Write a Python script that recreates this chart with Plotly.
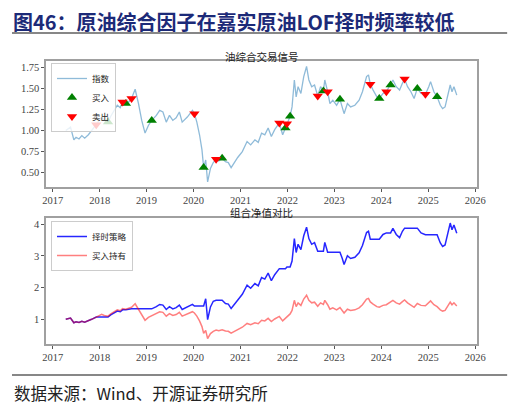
import plotly.graph_objects as go

# ---------------- data ----------------
dates = [
    "2017-04-12", "2017-05-01", "2017-05-19", "2017-06-14", "2017-07-01", "2017-07-24", "2017-08-15", "2017-09-06", "2017-10-05", "2017-10-30", "2017-12-05",
    "2018-01-01", "2018-01-16", "2018-02-06", "2018-03-07", "2018-03-28", "2018-04-23", "2018-05-18", "2018-06-10", "2018-06-28", "2018-07-24", "2018-08-15", "2018-09-06", "2018-10-04", "2018-10-30", "2018-11-24", "2018-12-20",
    "2019-01-15", "2019-02-10", "2019-03-18", "2019-04-13", "2019-05-08", "2019-06-03", "2019-06-28", "2019-07-24", "2019-08-19", "2019-09-13", "2019-10-05", "2019-11-14", "2019-12-24",
    "2020-01-08", "2020-01-27", "2020-02-17", "2020-03-07", "2020-03-20", "2020-04-05", "2020-04-20", "2020-05-12", "2020-06-03", "2020-06-25", "2020-07-16", "2020-08-11", "2020-09-06", "2020-09-28", "2020-10-20", "2020-11-18", "2020-12-10",
    "2021-01-15", "2021-02-21", "2021-03-21", "2021-04-23", "2021-05-19", "2021-06-14", "2021-07-09", "2021-08-04", "2021-08-29", "2021-09-24", "2021-10-30", "2021-11-25", "2021-12-17", "2021-12-28",
    "2022-01-22", "2022-02-06", "2022-02-24", "2022-03-10", "2022-03-25", "2022-04-16", "2022-05-08", "2022-05-30", "2022-06-17", "2022-07-09", "2022-07-31", "2022-08-25", "2022-09-16", "2022-10-08", "2022-10-19", "2022-11-10", "2022-11-28", "2022-12-20",
    "2023-01-19", "2023-02-14", "2023-03-04", "2023-03-18", "2023-04-13", "2023-05-08", "2023-06-10", "2023-07-13", "2023-08-08", "2023-09-09", "2023-09-24", "2023-10-08", "2023-10-30", "2023-11-28", "2023-12-17",
    "2024-01-15", "2024-02-10", "2024-03-14", "2024-04-01", "2024-04-27", "2024-05-23", "2024-06-14", "2024-07-01", "2024-07-24", "2024-08-19", "2024-09-13", "2024-10-08", "2024-11-06", "2024-12-10",
    "2025-01-05", "2025-01-19", "2025-02-14", "2025-03-11", "2025-04-05", "2025-04-23", "2025-05-12", "2025-06-06", "2025-06-21", "2025-07-05", "2025-07-20", "2025-08-11",
]

index_vals = [
    1.00, 1.02, 1.04, 0.89, 0.92, 0.90, 0.94, 0.91, 0.95, 1.00, 1.07,
    1.12, 1.16, 1.12, 1.10, 1.17, 1.24, 1.30, 1.27, 1.34, 1.32, 1.34, 1.38, 1.49, 1.32, 1.12, 0.97,
    1.06, 1.12, 1.18, 1.24, 1.22, 1.10, 1.18, 1.12, 1.15, 1.22, 1.10, 1.16, 1.24,
    1.20, 1.10, 0.95, 0.77, 0.56, 0.65, 0.39, 0.55, 0.62, 0.66, 0.64, 0.67, 0.63, 0.62, 0.56, 0.63, 0.68,
    0.75, 0.87, 0.83, 0.89, 0.86, 0.97, 0.95, 1.03, 0.93, 1.01, 1.09, 0.95, 1.03, 1.08,
    1.17, 1.28, 1.60, 1.40, 1.52, 1.44, 1.64, 1.76, 1.60, 1.52, 1.54, 1.41, 1.52, 1.47, 1.60, 1.46, 1.32, 1.36,
    1.30, 1.37, 1.28, 1.20, 1.32, 1.28, 1.30, 1.36, 1.46, 1.64, 1.66, 1.55, 1.48, 1.40, 1.38,
    1.44, 1.46, 1.54, 1.60, 1.52, 1.48, 1.56, 1.61, 1.52, 1.46, 1.38, 1.50, 1.44, 1.43,
    1.52, 1.58, 1.46, 1.40, 1.30, 1.26, 1.28, 1.44, 1.54, 1.46, 1.52, 1.42,
]

timing_nav = [
    1.00, 1.02, 1.04, 0.89, 0.92, 0.90, 0.94, 0.91, 0.95, 1.00, 1.07,
    1.07, 1.07, 1.07, 1.07, 1.14, 1.21, 1.26, 1.24, 1.30, 1.30, 1.32, 1.33, 1.33, 1.33, 1.33, 1.33,
    1.33, 1.33, 1.40, 1.47, 1.45, 1.31, 1.40, 1.33, 1.37, 1.45, 1.31, 1.38, 1.47,
    1.42, 1.42, 1.42, 1.42, 1.42, 1.65, 0.99, 1.39, 1.57, 1.60, 1.60, 1.60, 1.50, 1.48, 1.34, 1.50, 1.62,
    1.79, 2.08, 1.98, 2.13, 2.06, 2.32, 2.27, 2.46, 2.22, 2.41, 2.60, 2.60, 2.60, 2.65,
    2.65, 2.84, 3.55, 3.11, 3.37, 3.20, 3.64, 3.91, 3.55, 3.37, 3.42, 3.15, 3.15, 3.15, 3.43, 3.12, 3.12, 3.12,
    3.12, 3.12, 2.92, 2.73, 3.01, 2.92, 2.96, 3.10, 3.33, 3.74, 3.78, 3.53, 3.53, 3.53, 3.53,
    3.68, 3.73, 3.73, 3.87, 3.68, 3.58, 3.78, 3.88, 3.88, 3.88, 3.88, 3.88, 3.73, 3.67,
    3.67, 3.67, 3.67, 3.67, 3.41, 3.30, 3.35, 3.77, 4.04, 3.83, 3.98, 3.72,
]

hold_nav = list(index_vals)  # buy-and-hold NAV equals the normalised index

buy_dates = ["2018-03-07", "2018-07-24", "2019-02-10", "2020-03-20", "2020-08-11", "2021-12-17", "2022-01-22",
             "2022-10-08", "2023-02-14", "2023-12-17", "2024-03-14", "2024-10-08", "2025-03-11"]
buy_vals = [1.10, 1.32, 1.12, 0.56, 0.67, 1.03, 1.17, 1.47, 1.37, 1.38, 1.54, 1.50, 1.40]

sell_dates = ["2017-12-05", "2018-06-28", "2018-09-06", "2020-01-08", "2020-06-25", "2021-10-30", "2021-12-28",
              "2022-08-25", "2022-11-10", "2023-10-08", "2024-02-10", "2024-07-01", "2024-12-10"]
sell_vals = [1.07, 1.34, 1.38, 1.20, 0.66, 1.09, 1.08, 1.41, 1.46, 1.55, 1.46, 1.61, 1.43]

top_yticks = [0.50, 0.75, 1.00, 1.25, 1.50, 1.75]
bot_yticks = [1, 2, 3, 4]

title_text = "图46：原油综合因子在嘉实原油LOF择时频率较低"
top_title = "油综合交易信号"
bot_title = "组合净值对比"
source_text = "数据来源：Wind、开源证券研究所"

# ---------------- figure ----------------
# The page body has an 8px margin, so the figure is drawn 8px in from the
# window's corner; positions below are given in window pixels and converted.
OFF = 8
W, H = 522 - OFF, 405 - OFF


def px(x):
    return (x - OFF) / W


def py(y):
    return 1 - (y - OFF) / H


CJK = "Noto Sans CJK SC"
SERIF = "Liberation Serif, Times New Roman, serif"

fig = go.Figure()

fig.add_trace(go.Scatter(x=dates, y=index_vals, mode="lines", name="指数",
                         line=dict(color="rgba(31,119,180,0.5)", width=1.3),
                         xaxis="x", yaxis="y", legend="legend"))
fig.add_trace(go.Scatter(x=buy_dates, y=buy_vals, mode="markers", name="买入",
                         marker=dict(symbol="triangle-up", color="#008000", size=9),
                         xaxis="x", yaxis="y", legend="legend"))
fig.add_trace(go.Scatter(x=sell_dates, y=sell_vals, mode="markers", name="卖出",
                         marker=dict(symbol="triangle-down", color="#ff0000", size=9),
                         xaxis="x", yaxis="y", legend="legend"))

fig.add_trace(go.Scatter(x=dates, y=timing_nav, mode="lines", name="择时策略",
                         line=dict(color="rgba(0,0,255,0.85)", width=1.5),
                         xaxis="x2", yaxis="y2", legend="legend2"))
fig.add_trace(go.Scatter(x=dates, y=hold_nav, mode="lines", name="买入持有",
                         line=dict(color="rgba(255,0,0,0.5)", width=1.5),
                         xaxis="x2", yaxis="y2", legend="legend2"))

xdom = [px(43), px(485)]
top_dom = [py(187), py(61)]
bot_dom = [py(344), py(218)]
xrange_ = ["2016-11-10", "2026-01-15"]

axis_common = dict(showline=True, linecolor="#a0a0a0", linewidth=1.5, mirror=True,
                   showgrid=False, zeroline=False, ticks="outside", ticklen=3,
                   tickcolor="#555", tickfont=dict(family=SERIF, size=10.5, color="#444"))

xcommon = dict(axis_common, type="date", range=xrange_, tick0="2017-01-01", dtick="M12",
               tickformat="%Y", domain=xdom)

legend_common = dict(xanchor="left", yanchor="top",
                     bgcolor="rgba(255,255,255,0.8)", bordercolor="#cccccc", borderwidth=1,
                     font=dict(family=CJK, size=8.5, color="#222"), itemwidth=30,
                     tracegroupgap=0)

fig.update_layout(
    width=W, height=H, autosize=False,
    margin=dict(l=0, r=0, t=0, b=0),
    paper_bgcolor="white", plot_bgcolor="white",
    xaxis=dict(xcommon, anchor="y"),
    yaxis=dict(axis_common, domain=top_dom, range=[0.33, 1.825], tickvals=top_yticks,
               ticktext=[f"{v:.2f}" for v in top_yticks], anchor="x"),
    xaxis2=dict(xcommon, anchor="y2"),
    yaxis2=dict(axis_common, domain=bot_dom, range=[0.22, 4.2], tickvals=bot_yticks,
                ticktext=[str(v) for v in bot_yticks], anchor="x2"),
    legend=dict(legend_common, x=px(48), y=py(63)),
    legend2=dict(legend_common, x=px(48), y=py(221)),
    showlegend=True,
)

annotations = [
    dict(text=f"<b>{title_text}</b>", x=px(8), y=1.0, xref="paper", yref="paper",
         xanchor="left", yanchor="top", showarrow=False, borderpad=0, yshift=2,
         font=dict(family=CJK, size=20, color="#1c2a78")),
    dict(text=top_title, x=px(264), y=py(57), xref="paper", yref="paper",
         xanchor="center", yanchor="middle", showarrow=False,
         font=dict(family=CJK, size=10.5, color="#222")),
    dict(text=bot_title, x=px(264), y=py(212), xref="paper", yref="paper",
         xanchor="center", yanchor="middle", showarrow=False,
         font=dict(family=CJK, size=10.5, color="#222")),
    dict(text=source_text, x=px(8), y=py(393), xref="paper", yref="paper",
         xanchor="left", yanchor="middle", showarrow=False,
         font=dict(family=CJK, size=16.5, color="#222")),
]
fig.update_layout(annotations=annotations)

fig.update_layout(shapes=[
    dict(type="line", xref="paper", yref="paper", x0=px(8), x1=px(516),
         y0=py(33), y1=py(33), line=dict(color="#111", width=1.2)),
    dict(type="line", xref="paper", yref="paper", x0=px(8), x1=px(516),
         y0=py(375), y1=py(375), line=dict(color="#111", width=1.2)),
])

fig.write_html("out.html")
